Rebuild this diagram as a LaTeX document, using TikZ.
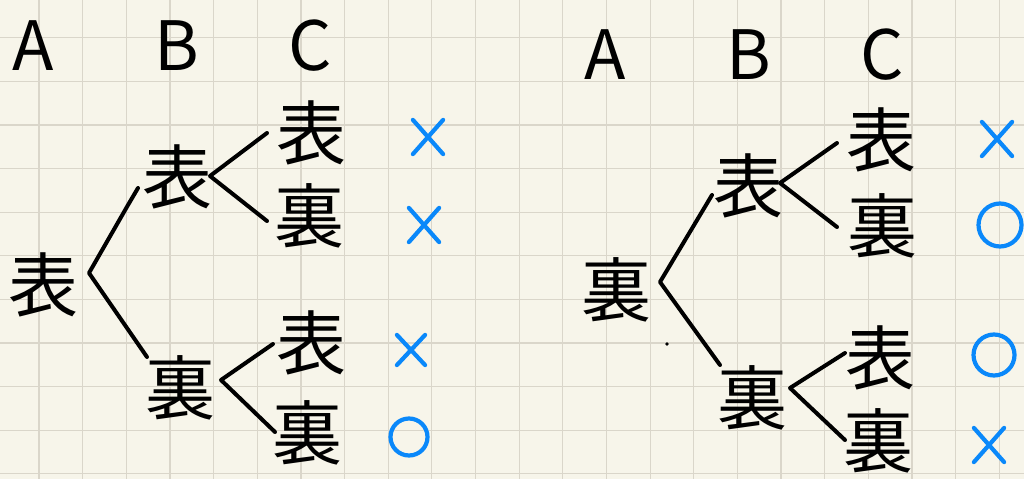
\documentclass[tikz,border=0pt]{standalone}
\usepackage{fontspec}
\usetikzlibrary{shapes.misc}
\newfontfamily\jp{Noto Sans CJK JP}
\definecolor{paper}{RGB}{247,245,234}
\definecolor{gridc}{RGB}{218,214,202}
\definecolor{markc}{RGB}{10,136,250}
\begin{document}
\begin{tikzpicture}[x=1pt,y=-1pt,
  kanji/.style={inner sep=0pt, font=\jp\fontsize{70}{70}\selectfont},
  head/.style={inner sep=0pt, anchor=base, font=\jp\fontsize{68}{68}\selectfont},
  branch/.style={line width=4pt, line cap=round, line join=round},
  xmark/.style={cross out, draw=markc, line width=4.2pt, line cap=round, minimum width=26pt, minimum height=30pt, inner sep=0pt},
  omark/.style={circle, draw=markc, line width=4.2pt, inner sep=0pt}]
\fill[paper] (0,0) rectangle (1024,479);
\useasboundingbox (0,0) rectangle (1024,479);
\foreach \k in {0,...,22} \draw[gridc, line width=1.2pt] ({39+43.65*\k},0) -- ({39+43.65*\k},479);
\foreach \k in {0,...,10} \draw[gridc, line width=1.2pt] (0,{37.7+43.6*\k}) -- (1024,{37.7+43.6*\k});
% headers
\node[head] (hA1) at (33,70) {A};
\node[head] (hB1) at (177,70) {B};
\node[head] (hC1) at (310,70) {C};
\node[head] (hA2) at (605,79) {A};
\node[head] (hB2) at (749,79) {B};
\node[head] (hC2) at (882,79) {C};
% left tree
\node[kanji] (a1) at (44,285) {表};
\node[kanji] (b1) at (177,177) {表};
\node[kanji] (b2) at (180,388) {裏};
\node[kanji] (c1) at (311,133) {表};
\node[kanji] (c2) at (309,216) {裏};
\node[kanji] (c3) at (311,343) {表};
\node[kanji] (c4) at (307,433) {裏};
\coordinate (a1v) at (89,273); \coordinate (a1k) at (128,205);
\coordinate (a1u) at (138,188); \coordinate (a1d) at (147,357);
\coordinate (b1v) at (210,176); \coordinate (b1u) at (267,133); \coordinate (b1d) at (267,221);
\coordinate (b2v) at (221,380); \coordinate (b2u) at (273,344); \coordinate (b2d) at (275,432);
\draw[branch] (a1u) -- (a1k) -- (a1v) -- (a1d);
\draw[branch] (b1u) -- (b1v) -- (b1d);
\draw[branch] (b2u) -- (b2v) -- (b2d);
\node[xmark] (m1) at (428,137) {};
\node[xmark] (m2) at (424,225) {};
\node[xmark, minimum width=24pt, minimum height=26pt] (m3) at (411,350) {};
\node[omark, minimum size=37pt] (m4) at (409,437) {};
% right tree
\node[kanji] (ra1) at (616,290) {裏};
\node[kanji] (rb1) at (748,186) {表};
\node[kanji] (rb2) at (752,398) {裏};
\node[kanji] (rc1) at (881,140) {表};
\node[kanji] (rc2) at (882,226) {裏};
\node[kanji] (rc3) at (880,358) {表};
\node[kanji] (rc4) at (878,441) {裏};
\coordinate (ra1v) at (660,282); \coordinate (ra1u) at (712,195); \coordinate (ra1d) at (720,365);
\coordinate (rb1v) at (780,183); \coordinate (rb1u) at (837,143); \coordinate (rb1d) at (837,227);
\coordinate (rb2v) at (790,388); \coordinate (rb2u) at (845,353); \coordinate (rb2d) at (845,440);
\draw[branch] (ra1u) -- (ra1v) -- (ra1d);
\draw[branch] (rb1u) -- (rb1v) -- (rb1d);
\draw[branch] (rb2u) -- (rb2v) -- (rb2d);
\fill (667,344) circle (1.8pt);
\node[xmark] (rm1) at (997,139) {};
\node[omark, minimum size=43pt] (rm2) at (1000,225) {};
\node[omark, minimum size=41pt] (rm3) at (994,355) {};
\node[xmark] (rm4) at (989,445) {};
\end{tikzpicture}
\end{document}
